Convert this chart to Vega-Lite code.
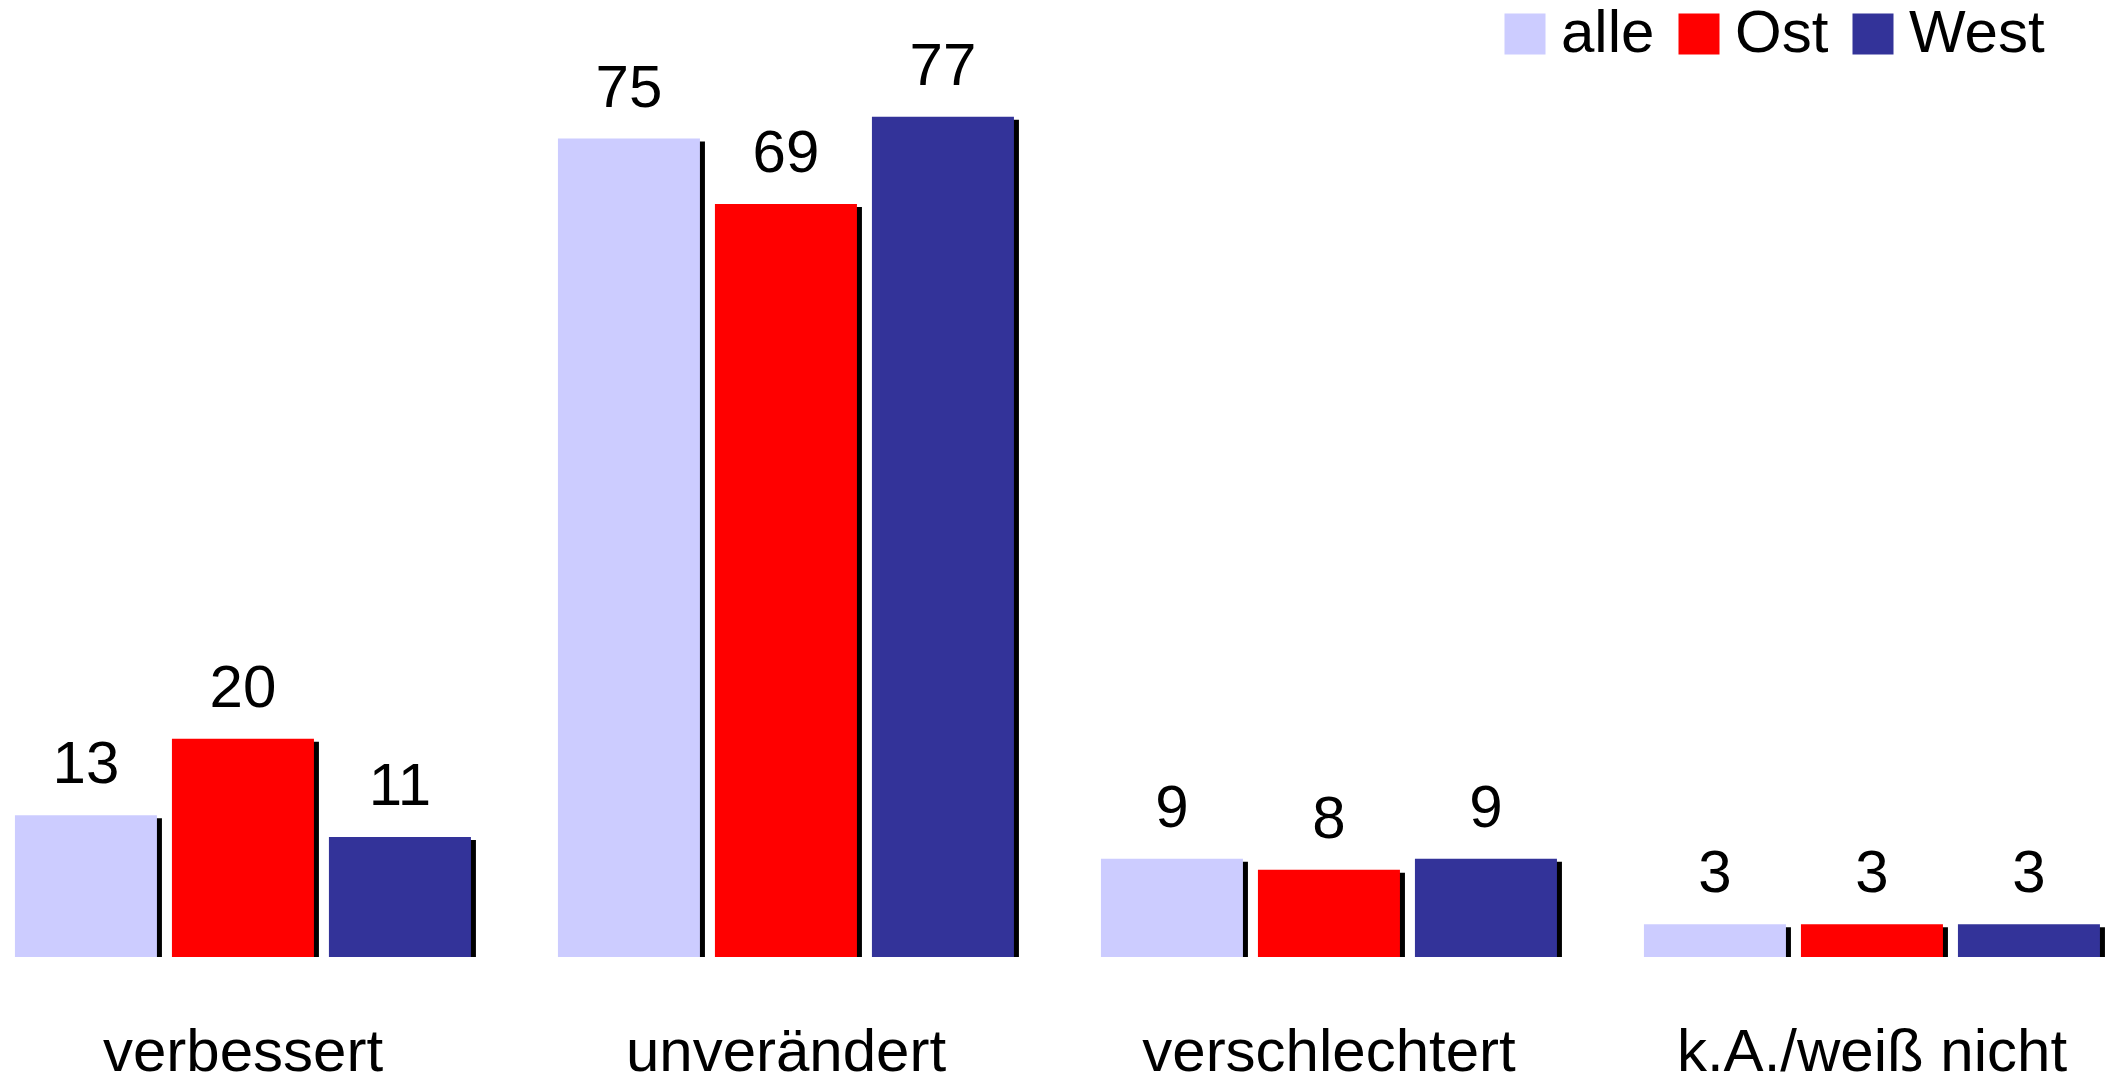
{
  "$schema": "https://vega.github.io/schema/vega-lite/v6.json",
  "autosize": {"type": "none"},
  "padding": {"left": 0, "top": 0, "right": 0, "bottom": 118},
  "width": 2115,
  "height": 957,
  "background": "white",
  "config": {"view": {"stroke": null}},
  "data": {"values": [
    {"cat": "verbessert", "grp": "alle", "val": 13},
    {"cat": "verbessert", "grp": "Ost", "val": 20},
    {"cat": "verbessert", "grp": "West", "val": 11},
    {"cat": "unverändert", "grp": "alle", "val": 75},
    {"cat": "unverändert", "grp": "Ost", "val": 69},
    {"cat": "unverändert", "grp": "West", "val": 77},
    {"cat": "verschlechtert", "grp": "alle", "val": 9},
    {"cat": "verschlechtert", "grp": "Ost", "val": 8},
    {"cat": "verschlechtert", "grp": "West", "val": 9},
    {"cat": "k.A./weiß nicht", "grp": "alle", "val": 3},
    {"cat": "k.A./weiß nicht", "grp": "Ost", "val": 3},
    {"cat": "k.A./weiß nicht", "grp": "West", "val": 3}
  ]},
  "encoding": {
    "x": {
      "field": "cat", "type": "nominal",
      "scale": {"domain": ["verbessert", "unverändert", "verschlechtert", "k.A./weiß nicht"], "paddingInner": 0.16, "paddingOuter": 0.0275},
      "axis": {"title": null, "ticks": false, "tickSize": 0, "domain": false, "grid": false, "labelAngle": 0,
               "labelFont": "Liberation Sans", "labelFontSize": 60, "labelColor": "black", "labelLimit": 0,
               "labelBaseline": "alphabetic", "labelPadding": 113}
    },
    "y": {"field": "val", "type": "quantitative", "stack": null, "scale": {"domain": [0, 87.7], "nice": false, "zero": true}, "axis": null}
  },
  "layer": [
    {
      "mark": {"type": "bar", "fill": "black", "yOffset": 3, "y2Offset": 2},
      "encoding": {
        "xOffset": {"field": "grp", "type": "nominal", "scale": {"type": "band", "domain": ["alle", "Ost", "West"], "range": [5, 461], "paddingInner": 0.0955, "paddingOuter": 0}}
      }
    },
    {
      "mark": {"type": "bar"},
      "encoding": {
        "xOffset": {"field": "grp", "type": "nominal", "scale": {"type": "band", "domain": ["alle", "Ost", "West"], "range": [0, 456], "paddingInner": 0.0955, "paddingOuter": 0}},
        "color": {
          "field": "grp", "type": "nominal",
          "scale": {"domain": ["alle", "Ost", "West"], "range": ["#CCCCFF", "#FF0000", "#333399"]},
          "legend": {
            "title": null, "orient": "none", "legendX": 1495, "legendY": 4, "direction": "horizontal",
            "padding": 0, "symbolType": "square", "symbolSize": 1681, "symbolStrokeWidth": 0,
            "labelFont": "Liberation Sans", "labelFontSize": 60, "labelColor": "black",
            "labelOffset": 6, "columnPadding": 14
          }
        }
      }
    },
    {
      "mark": {"type": "text", "font": "Liberation Sans", "fontSize": 60, "color": "black", "baseline": "alphabetic", "dy": -32},
      "encoding": {
        "xOffset": {"field": "grp", "type": "nominal", "bandPosition": 0.5, "scale": {"type": "band", "domain": ["alle", "Ost", "West"], "range": [0, 456], "paddingInner": 0.0955, "paddingOuter": 0}},
        "text": {"field": "val", "type": "quantitative"}
      }
    }
  ],
  "resolve": {"scale": {"xOffset": "independent"}}
}
